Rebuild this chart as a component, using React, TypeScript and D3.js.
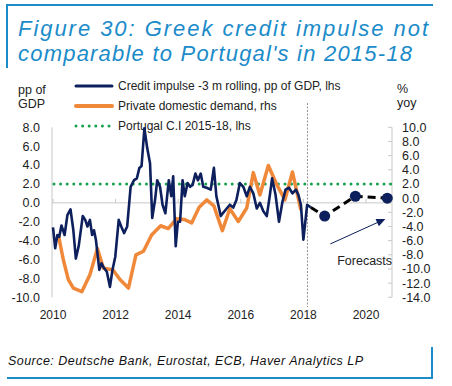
import React from 'react';
import * as d3 from 'd3';

// Credit impulse, pp of GDP (lhs)
const creditDates = [
  2010.0, 2010.07, 2010.14, 2010.2, 2010.27, 2010.37, 2010.46, 2010.56, 2010.65, 2010.73, 2010.82, 2010.95,
  2011.03, 2011.1, 2011.18, 2011.25, 2011.31, 2011.37, 2011.48, 2011.55, 2011.63, 2011.72, 2011.82, 2011.9, 2011.99,
  2012.1, 2012.18, 2012.27, 2012.37, 2012.48, 2012.59, 2012.68, 2012.76, 2012.83, 2012.92, 2013.01, 2013.1,
  2013.17, 2013.26, 2013.33, 2013.42, 2013.5, 2013.59, 2013.7, 2013.78, 2013.84, 2013.92, 2013.99,
  2014.06, 2014.14, 2014.21, 2014.3, 2014.38, 2014.46, 2014.55, 2014.63, 2014.72, 2014.8, 2014.91,
  2015.04, 2015.14, 2015.22, 2015.36, 2015.45, 2015.55, 2015.65, 2015.76, 2015.86, 2015.97,
  2016.08, 2016.19, 2016.29, 2016.4, 2016.51, 2016.61, 2016.72, 2016.83, 2016.93,
  2017.0, 2017.11, 2017.22, 2017.33, 2017.43, 2017.54, 2017.65, 2017.76, 2017.84, 2017.92,
  2018.0, 2018.12, 2018.24,
];
const creditValues = [
  -2.6, -4.8, -3.4, -3.6, -2.4, -3.4, -1.3, -0.7, -2.9, -5.9, -4.6, -1.4,
  -1.8, -2.5, -1.8, -3.4, -2.9, -3.9, -7.1, -6.4, -6.9, -7.3, -8.9, -7.1, -5.7,
  -1.8, -2.5, -3.2, -2.5, 1.7, 2.4, 2.6, 3.7, 3.9, 7.9, 5.8, 4.2,
  -1.6, 0.3, 2.4, 1.7, -0.2, -1.1, 2.4, 0.7, 2.8, -4.6, -2.0,
  -2.0, 2.4, 0.7, 2.1, 1.7, 1.9, 3.1, 2.4, 3.1, 1.7, 1.6,
  1.4, 3.7, 0.7, -1.4, -1.0, -0.6, -0.2, -0.5, 0.3, 2.1,
  1.7, 0.7, 1.7, 1.0, -0.6, 0.0, -0.9, -1.4, 0.85,
  2.6, 0.85, -2.0, 0.1, 1.4, 1.6, 1.0, 1.4, 0.85, -0.2,
  -3.9, -0.2, -0.5,
];

// Private domestic demand, % yoy (rhs)
const demandDates = [
  2010.17, 2010.33, 2010.49, 2010.65, 2010.92, 2011.18, 2011.42, 2011.61, 2011.91, 2012.14, 2012.41,
  2012.65, 2012.89, 2013.15, 2013.44, 2013.68, 2013.95, 2014.19, 2014.43, 2014.67, 2014.91,
  2015.14, 2015.41, 2015.65, 2015.92, 2016.19, 2016.4, 2016.61, 2016.88, 2017.15, 2017.41, 2017.65, 2017.92,
];
const demandValues = [
  -5.2, -8.7, -11.5, -12.7, -13.2, -10.8, -7.1, -9.9, -10.1, -11.5, -12.7,
  -8.0, -7.5, -5.2, -3.9, -4.3, -2.9, -3.0, -3.5, -1.3, -0.25,
  -1.1, -4.6, -1.5, -3.3, -1.4, 3.6, 0.45, 4.6, 1.9, -0.25, 3.7, -1.7,
];

// Forecast points (lhs)
const forecastDates = [2018.68, 2019.66, 2020.68];
const forecastValues = [-1.4, 0.7, 0.5];

const portugalLevel = 2.0;
const splitYear = 2018.13;

const leftTicks = [8, 6, 4, 2, 0, -2, -4, -6, -8, -10];
const rightTicks = [10, 8, 6, 4, 2, 0, -2, -4, -6, -8, -10, -12, -14];
const yearTicks = [2010, 2012, 2014, 2016, 2018, 2020];

const legendLabels = [
  'Credit impulse -3 m rolling, pp of GDP, lhs',
  'Private domestic demand, rhs',
  'Portugal C.I 2015-18, lhs',
];

const NAVY = '#0d1f5c';
const ORANGE = '#f0883a';
const GREEN = '#17a04c';
const BLUE = '#1b8bc9';
const GRID = '#c8c8c8';
const FONT = '"Liberation Sans", Arial, sans-serif';

export default function App() {
  const x = d3.scaleLinear().domain([2010, 2020]).range([53, 366]);
  const yL = d3.scaleLinear().domain([-10, 8]).range([297.3, 127.3]);
  const yR = d3.scaleLinear().domain([-14, 10]).range([297.3, 127.3]);

  const credit = creditDates.map((d, i) => [d, creditValues[i]] as [number, number]);
  const demand = demandDates.map((d, i) => [d, demandValues[i]] as [number, number]);
  const last = credit[credit.length - 1];
  const forecast = [last, ...forecastDates.map((d, i) => [d, forecastValues[i]] as [number, number])];

  const lineL = d3.line<[number, number]>().x(d => x(d[0])).y(d => yL(d[1]));
  const lineR = d3.line<[number, number]>().x(d => x(d[0])).y(d => yR(d[1]));

  const axisX0 = 52;
  const axisX1 = 392;

  // annotation arrow in data space
  const arrowFrom: [number, number] = [2018.86, -4.35];
  const arrowTo: [number, number] = [2020.62, -1.7];
  const ax1 = x(arrowFrom[0]), ay1 = yL(arrowFrom[1]);
  const ax2 = x(arrowTo[0]), ay2 = yL(arrowTo[1]);
  const ang = Math.atan2(ay2 - ay1, ax2 - ax1);
  const hl = 9, hw = 4;
  const head = [
    [ax2, ay2],
    [ax2 - hl * Math.cos(ang) + hw * Math.sin(ang), ay2 - hl * Math.sin(ang) - hw * Math.cos(ang)],
    [ax2 - hl * Math.cos(ang) - hw * Math.sin(ang), ay2 - hl * Math.sin(ang) + hw * Math.cos(ang)],
  ].map(p => p.join(',')).join(' ');

  return (
    <svg width={452} height={386} style={{ position: 'absolute', left: 0, top: 0, background: '#fff' }} fontFamily={FONT}>
      {/* title frame */}
      <line x1={7} x2={433} y1={5} y2={5} stroke={BLUE} strokeWidth={2} />
      <line x1={7} x2={7} y1={4} y2={68} stroke={BLUE} strokeWidth={2} />
      <text x={18} y={36} fontSize={22} fontStyle="italic" fill={BLUE} textLength={410} lengthAdjust="spacing">
        Figure 30: Greek credit impulse not
      </text>
      <text x={18} y={61} fontSize={22} fontStyle="italic" fill={BLUE} textLength={394} lengthAdjust="spacing">
        comparable to Portugal's in 2015-18
      </text>

      {/* axis titles */}
      <text x={18} y={94} fontSize={12.5} fill="#222">pp of</text>
      <text x={18} y={108} fontSize={12.5} fill="#222">GDP</text>
      <text x={397} y={93} fontSize={12.5} fill="#222">%</text>
      <text x={397} y={107} fontSize={12.5} fill="#222">yoy</text>

      {/* legend */}
      <line x1={76} x2={112} y1={86} y2={86} stroke={NAVY} strokeWidth={3} strokeLinecap="round" />
      <line x1={76} x2={112} y1={106} y2={106} stroke={ORANGE} strokeWidth={4} strokeLinecap="round" />
      <line x1={76} x2={112} y1={126} y2={126} stroke={GREEN} strokeWidth={3} strokeLinecap="round" strokeDasharray="0 6.6" />
      {legendLabels.map((t, i) => (
        <text key={t} x={118} y={86 + i * 20} dy="0.35em" fontSize={12} fill="#222">{t}</text>
      ))}

      {/* left axis */}
      <line x1={axisX0} x2={axisX0} y1={yL(8)} y2={yL(-10)} stroke={GRID} />
      {leftTicks.map(v => (
        <text key={v} x={40} y={yL(v)} dy="0.35em" textAnchor="end" fontSize={12.5} fill="#222">{v.toFixed(1)}</text>
      ))}

      {/* right axis */}
      <line x1={axisX1} x2={axisX1} y1={yR(10)} y2={yR(-14)} stroke={GRID} />
      {rightTicks.map(v => (
        <g key={v}>
          <line x1={axisX1 - 4} x2={axisX1} y1={yR(v)} y2={yR(v)} stroke={GRID} />
          <text x={402} y={yR(v)} dy="0.35em" fontSize={12.5} fill="#222">{v.toFixed(1)}</text>
        </g>
      ))}

      {/* zero line and year ticks */}
      <line x1={axisX0} x2={axisX1} y1={yL(0)} y2={yL(0)} stroke={GRID} />
      {yearTicks.map(yr => (
        <g key={yr}>
          <line x1={x(yr)} x2={x(yr)} y1={yL(0)} y2={yL(0) - 4} stroke={GRID} />
          <text x={x(yr)} y={319} textAnchor="middle" fontSize={12} fill="#222">{yr}</text>
        </g>
      ))}

      {/* 2018 separator */}
      <line x1={x(splitYear)} x2={x(splitYear)} y1={103} y2={307} stroke="#777" strokeWidth={0.8} strokeDasharray="2 1.5" />

      {/* Portugal level */}
      <line x1={axisX0 + 2} x2={axisX1} y1={yL(portugalLevel)} y2={yL(portugalLevel)} stroke={GREEN} strokeWidth={3}
        strokeLinecap="round" strokeDasharray="0 6.6" />

      {/* series */}
      <path d={lineR(demand) ?? ''} fill="none" stroke={ORANGE} strokeWidth={3.5} strokeLinejoin="round" />
      <path d={lineL(credit) ?? ''} fill="none" stroke={NAVY} strokeWidth={2.6} strokeLinejoin="round" />

      {/* forecast */}
      <path d={lineL(forecast) ?? ''} fill="none" stroke="#000" strokeWidth={3} strokeDasharray="8 5" />
      {forecastDates.map((d, i) => (
        <circle key={d} cx={x(d)} cy={yL(forecastValues[i])} r={5.5} fill={NAVY} />
      ))}

      {/* annotation */}
      <line x1={ax1} y1={ay1} x2={ax2 - 6 * Math.cos(ang)} y2={ay2 - 6 * Math.sin(ang)} stroke={NAVY} strokeWidth={1} />
      <polygon points={head} fill={NAVY} />
      <text x={x(2019.08)} y={265} fontSize={12.5} fill="#222">Forecasts</text>

      {/* footer frame */}
      <text x={8} y={365} fontSize={12.5} fontStyle="italic" fill="#111" textLength={355} lengthAdjust="spacing">
        Source: Deutsche Bank, Eurostat, ECB, Haver Analytics LP
      </text>
      <line x1={432} x2={432} y1={347} y2={379} stroke={BLUE} strokeWidth={2} />
      <line x1={7} x2={433} y1={378} y2={378} stroke={BLUE} strokeWidth={2} />
    </svg>
  );
}
